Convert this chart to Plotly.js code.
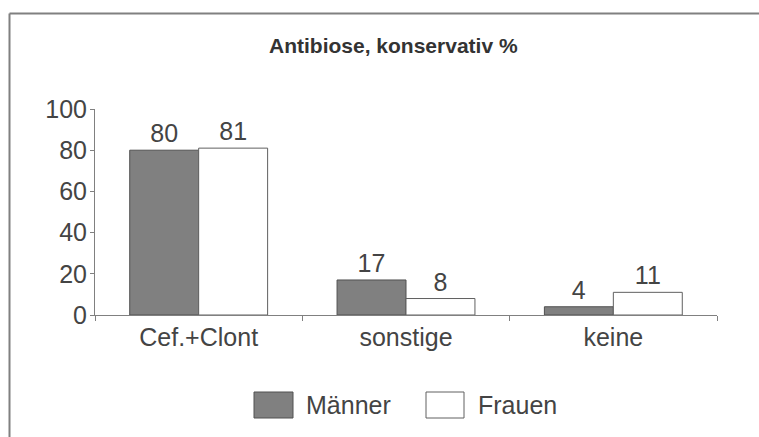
<!DOCTYPE html>
<html>
<head>
<meta charset="utf-8">
<script src="https://cdn.plot.ly/plotly-3.0.1.min.js"></script>
<style>html,body{margin:0;padding:0;background:#fff;}#chart{width:759px;height:437px;}</style>
</head>
<body>
<div id="chart"></div>
<script>
// ---- data ----
const categories = ["Cef.+Clont", "sonstige", "keine"];
const seriesNames = ["Männer", "Frauen"];
const maenner = [80, 17, 4];
const frauen = [81, 8, 11];
const chartTitle = "Antibiose, konservativ %";
const yTickVals = [0, 20, 40, 60, 80, 100];

// ---- layout helpers ----
const W = 759, H = 437;
const M = {l: 95, r: 42, t: 109, b: 122};
const pw = W - M.l - M.r, ph = H - M.t - M.b;
const px = x => (x - M.l) / pw;
const py = y => (H - M.b - y) / ph;

const FONT = "Liberation Sans, Arial, sans-serif";
const TXT = "#444444";
const AX = "#808080";
const FS = 25;

const traces = [
  {
    type: "bar", name: seriesNames[0], x: categories, y: maenner,
    text: maenner.map(String), textposition: "outside", cliponaxis: false,
    textfont: {family: FONT, size: FS, color: TXT},
    marker: {color: "#808080", line: {color: "#505050", width: 1}},
    showlegend: false, hoverinfo: "none"
  },
  {
    type: "bar", name: seriesNames[1], x: categories, y: frauen,
    text: frauen.map(String), textposition: "outside", cliponaxis: false,
    textfont: {family: FONT, size: FS, color: TXT},
    marker: {color: "#ffffff", line: {color: "#606060", width: 1}},
    showlegend: false, hoverinfo: "none"
  }
];

const legendItems = [
  {name: seriesNames[0], fill: "#808080", line: "#505050", x0: 254, x1: 293, tx: 304},
  {name: seriesNames[1], fill: "#ffffff", line: "#606060", x0: 426, x1: 464, tx: 476}
];

const shapes = [
  // outer frame (cut off at right/bottom)
  {type: "line", xref: "paper", yref: "paper", x0: px(9.5), x1: px(780), y0: py(13.5), y1: py(13.5),
   line: {color: "#808080", width: 2}},
  {type: "line", xref: "paper", yref: "paper", x0: px(9.5), x1: px(9.5), y0: py(13.5), y1: py(460),
   line: {color: "#808080", width: 2}}
];
const annotations = [
  {text: "<b>" + chartTitle + "</b>", xref: "paper", yref: "paper", x: px(393), y: py(46),
   xanchor: "center", yanchor: "middle", showarrow: false,
   font: {family: FONT, size: 21, color: "#333333"}}
];
legendItems.forEach(it => {
  shapes.push({type: "rect", xref: "paper", yref: "paper", x0: px(it.x0), x1: px(it.x1),
    y0: py(418), y1: py(392), fillcolor: it.fill, line: {color: it.line, width: 1}});
  annotations.push({text: it.name, xref: "paper", yref: "paper", x: px(it.tx), y: py(405),
    xanchor: "left", yanchor: "middle", showarrow: false,
    font: {family: FONT, size: FS, color: TXT}});
});

const layout = {
  width: W, height: H,
  margin: M,
  paper_bgcolor: "#ffffff", plot_bgcolor: "#ffffff",
  barmode: "group", bargap: 0.335, bargroupgap: 0,
  showlegend: false,
  font: {family: FONT, color: TXT},
  xaxis: {
    type: "category", tickson: "boundaries", ticks: "outside", ticklen: 5, tickwidth: 1, tickcolor: AX,
    showline: true, linecolor: AX, linewidth: 1, showgrid: false, zeroline: false,
    tickfont: {family: FONT, size: FS, color: TXT}, fixedrange: true
  },
  xaxis2: {
    overlaying: "x", type: "linear", range: [-0.5, 2.5], tickvals: [-0.5, 0.5, 1.5, 2.5],
    ticks: "inside", ticklen: 5, tickwidth: 1, tickcolor: AX, showticklabels: false,
    showline: false, showgrid: false, zeroline: false, side: "bottom", anchor: "y"
  },
  yaxis: {
    range: [0, 100], tickvals: yTickVals, ticks: "outside", ticklen: 4, tickwidth: 1, tickcolor: AX,
    showline: true, linecolor: AX, linewidth: 1, showgrid: false, zeroline: false,
    ticklabelstandoff: -2,
    tickfont: {family: FONT, size: FS, color: TXT}, fixedrange: true
  },
  yaxis2: {
    overlaying: "y", range: [0, 100], tickvals: yTickVals, ticks: "inside", ticklen: 5, tickwidth: 1,
    tickcolor: AX, showticklabels: false, showline: false, showgrid: false, zeroline: false,
    side: "left", anchor: "x"
  },
  shapes: shapes,
  annotations: annotations
};

Plotly.newPlot("chart", traces, layout, {staticPlot: true, displayModeBar: false});
</script>
</body>
</html>
